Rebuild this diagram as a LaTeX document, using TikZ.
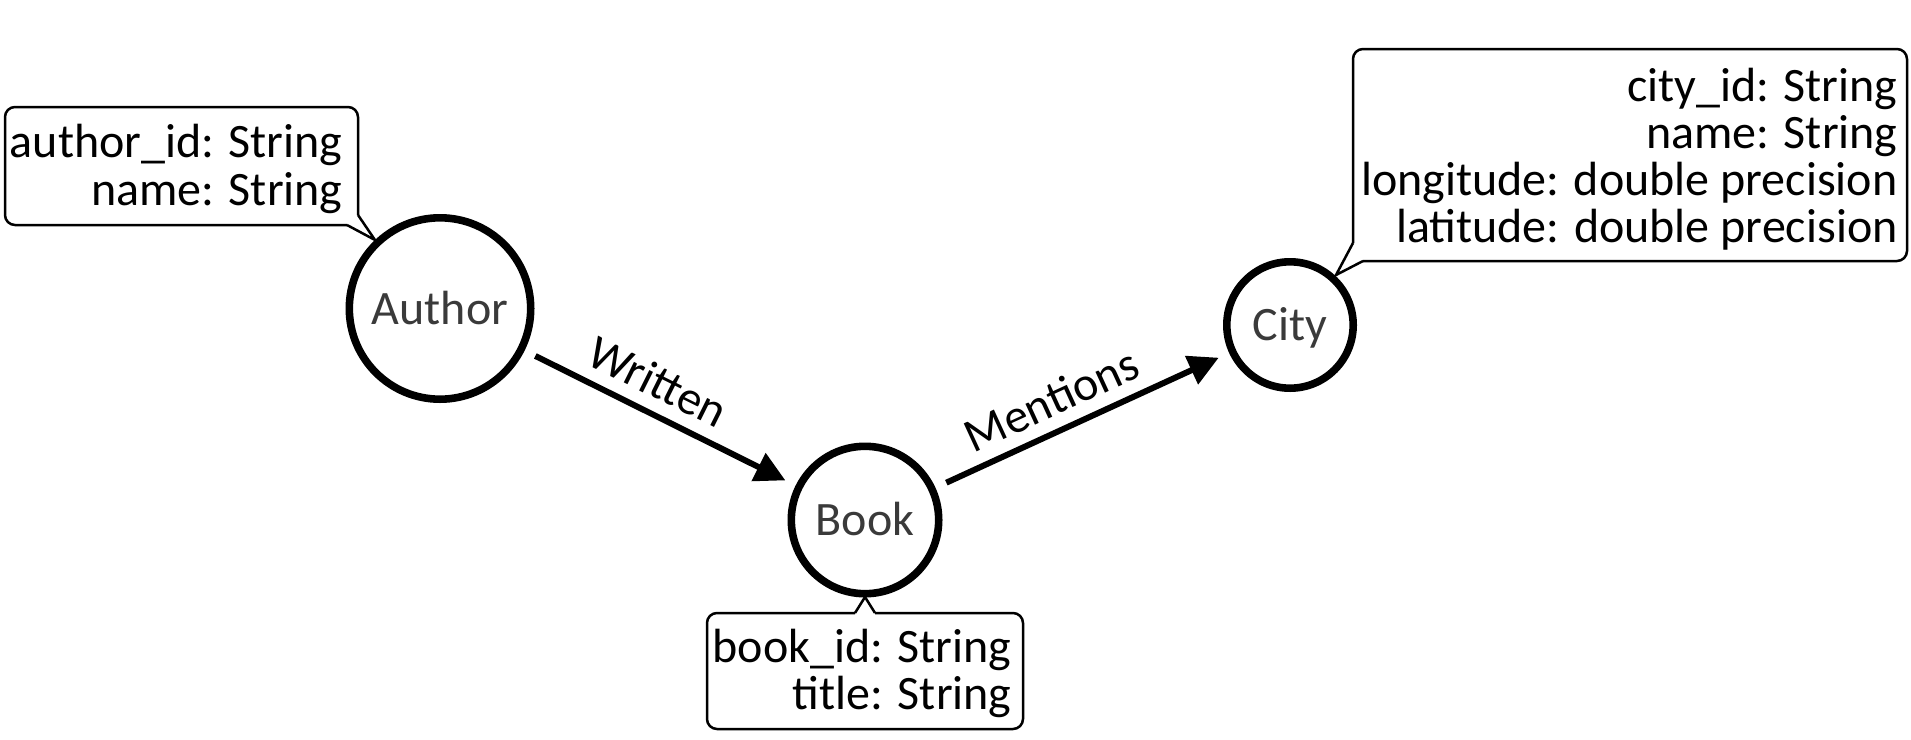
\documentclass[tikz,border=0pt]{standalone}
\usepackage{fontspec}
\setmainfont{Carlito}
\usetikzlibrary{arrows.meta}
\definecolor{lbl}{HTML}{3A3A3A}
\begin{document}
\begin{tikzpicture}[x=0.5pt,y=-0.5pt,
  ent/.style={circle,draw,line width=3.8pt,inner sep=0pt,text=lbl,
    font=\fontsize{24pt}{24pt}\selectfont,text height=15.5pt,text depth=0pt},
  rel/.style={line width=3pt,-{Triangle[length=15pt,width=15pt]},
    shorten <=6pt,shorten >=5.7pt},
  rlab/.style={sloped,above,inner sep=6pt,pos=0.44,
    font=\fontsize{24pt}{24pt}\selectfont},
  callout/.style={line width=1.25pt,rounded corners=5pt},
  ptr/.style={line width=1.25pt,line join=miter},
  attr/.style={anchor=base east,inner sep=0pt,
    font=\fontsize{24pt}{24pt}\selectfont}]
\useasboundingbox (0,0) rectangle (1911,739);

% callouts
\draw[callout] (347,225) -- (5,225) -- (5,107) -- (358,107) -- (358,215);
\draw[ptr] (358,215) -- (375,240) -- (347,225);
\draw[callout] (1363,261) -- (1907,261) -- (1907,49) -- (1353,49) -- (1353,243);
\draw[ptr] (1353,243) -- (1336,275) -- (1363,261);
\draw[callout] (875,613) -- (1023,613) -- (1023,729) -- (707,729) -- (707,613) -- (855,613);
\draw[ptr] (855,613) -- (865,597) -- (875,613);

% attribute texts
\node[attr] (a1) at (343,157) {author\_id: String};
\node[attr] (a2) at (343,205) {name: String};
\node[attr] (c1) at (1898,101) {city\_id: String};
\node[attr] (c2) at (1898,148) {name: String};
\node[attr] (c3) at (1898,195) {longitude: double precision};
\node[attr] (c4) at (1898,242) {latitude: double precision};
\node[attr] (b1) at (1012,662) {book\_id: String};
\node[attr] (b2) at (1012,709) {title: String};

% entities
\node[ent,minimum size=90.7pt] (author) at (440,308.5) {Author};
\node[ent,minimum size=73.7pt] (book) at (865,520) {Book};
\node[ent,minimum size=63.2pt] (city) at (1290,325) {City};

% relations
\draw[rel] (author) -- node[rlab] (lw) {Written} (book);
\draw[rel] (book) -- node[rlab] (lm) {Mentions} (city);
\end{tikzpicture}
\end{document}
